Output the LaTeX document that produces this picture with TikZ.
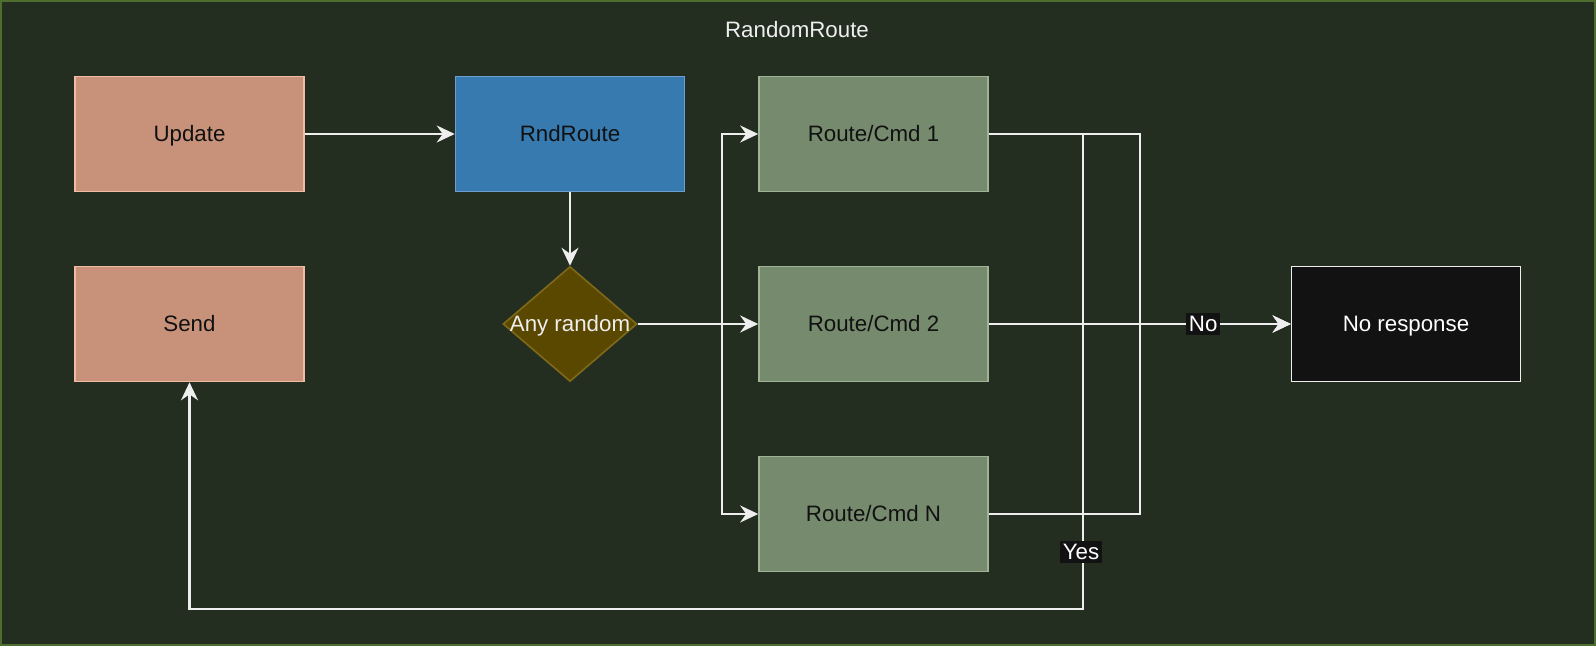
\documentclass[tikz,border=0pt]{standalone}
\usepackage{fontspec}
\setmainfont{Liberation Sans}
\usetikzlibrary{shapes.geometric,arrows.meta}
\definecolor{bgc}{HTML}{242E20}
\definecolor{frame}{HTML}{4D6E2F}
\definecolor{salmon}{HTML}{C8927A}
\definecolor{salmonb}{HTML}{F2BBA3}
\definecolor{bluef}{HTML}{367AB0}
\definecolor{blueb}{HTML}{6C9FD0}
\definecolor{goldf}{HTML}{5A4800}
\definecolor{goldb}{HTML}{7E6A17}
\definecolor{sage}{HTML}{768A6E}
\definecolor{sageb}{HTML}{A0B396}
\definecolor{nearblack}{HTML}{121212}
\definecolor{wirec}{HTML}{EEEEEE}
\definecolor{darktext}{HTML}{111111}
\tikzset{
  boxbase/.style={rectangle, minimum width=114.5pt, minimum height=57.5pt, inner sep=0pt, line width=0.8pt, text height=8pt, text depth=0pt, font=\fontsize{11.15}{13}\selectfont},
  peach/.style={boxbase, fill=salmon, draw=salmonb, text=darktext},
  bluebox/.style={boxbase, fill=bluef, draw=blueb, text=darktext},
  sagebox/.style={boxbase, fill=sage, draw=sageb, text=darktext},
  darkbox/.style={boxbase, fill=nearblack, draw=wirec, text=white},
  wire/.style={draw=wirec, line width=1.1pt},
  arr/.style={wire, -{Stealth[length=9pt, width=8.5pt, inset=3pt]}},
  tag/.style={fill=nearblack, text=white, inner sep=1.5pt, font=\fontsize{11.15}{13}\selectfont},
}
\begin{document}
\begin{tikzpicture}[x=0.5pt, y=-0.5pt]
\useasboundingbox (0,0) rectangle (1596,646);
\fill[bgc] (0,0) rectangle (1596,646);
\draw[frame, line width=1pt] (1,1) rectangle (1595,645);
\node[text=wirec, text height=8pt, text depth=0pt, font=\fontsize{11.15}{13}\selectfont] (title) at (797,30) {RandomRoute};

\node[peach] (upd) at (189.5,134) {Update};
\node[peach] (send) at (189.5,324) {Send};
\node[bluebox] (rnd) at (570,134) {RndRoute};
\node[diamond, fill=goldf, draw=goldb, line width=0.8pt, minimum width=67pt, minimum height=57.5pt, inner sep=0pt, shape aspect=1.165] (dec) at (570,324) {};
\node[text=wirec, text height=8pt, text depth=0pt, font=\fontsize{11.15}{13}\selectfont] (dectext) at (570,324) {Any random};
\node[sagebox] (c1) at (873.5,134) {Route/Cmd 1};
\node[sagebox] (c2) at (873.5,324) {Route/Cmd 2};
\node[sagebox] (cn) at (873.5,514) {Route/Cmd N};
\node[darkbox] (nr) at (1406,324) {No response};

\coordinate (split) at (722,324);
\coordinate (merge1) at (1140,134);
\coordinate (mergen) at (1140,514);
\coordinate (yes1) at (1083,134);
\coordinate (yes2) at (1083,324);
\coordinate (yesn) at (1083,514);
\coordinate (bot) at (1083,609);

\draw[arr] (upd.east) -- (rnd.west);
\draw[arr] (rnd.south) -- (dec.north);
\draw[arr] (dec.east) -- (split) |- (c1.west);
\draw[arr] (dec.east) -- (c2.west);
\draw[arr] (split) |- (cn.west);

\draw[arr] (c1.east) -- (merge1) |- (nr.west);
\draw[arr] (cn.east) -- (mergen) |- (nr.west);
\draw[arr] (c2.east) -- (nr.west) node[tag, pos=0.71] (no) {No};

\draw[wire] (c1.east) -- (yes1) -- (bot);
\draw[wire] (c2.east) -- (yes2);
\draw[wire] (cn.east) -- (yesn);
\draw[arr] (yes1) -- (bot) -| (send.south);
\node[tag] (yes) at (1081,552) {Yes};
\end{tikzpicture}
\end{document}
